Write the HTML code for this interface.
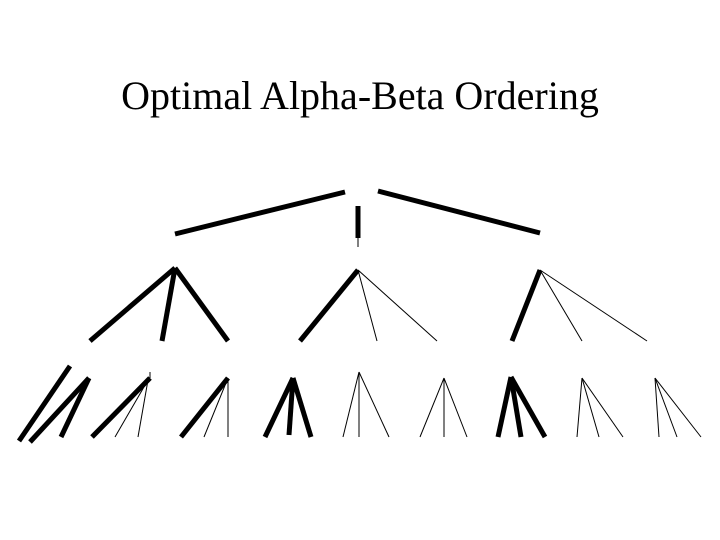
<!DOCTYPE html>
<html><head><style>
html,body{margin:0;padding:0;background:#fff;width:720px;height:540px;overflow:hidden}
.t{position:absolute;left:0;width:720px;top:72px;text-align:center;font-family:"Liberation Serif",serif;font-size:40px;color:#000}
svg{position:absolute;left:0;top:0}
</style></head><body>
<div class="t">Optimal Alpha-Beta Ordering</div>
<svg width="720" height="540" stroke="#000" stroke-linecap="butt">
<g stroke-width="5">
<line x1="175" y1="234" x2="345" y2="192"/>
<line x1="358" y1="206" x2="358" y2="238"/>
<line x1="378" y1="191" x2="540" y2="233"/>
<line x1="175" y1="268" x2="90" y2="341"/>
<line x1="175" y1="268" x2="162" y2="341"/>
<line x1="175" y1="268" x2="228" y2="341"/>
<line x1="358" y1="270" x2="300" y2="341"/>
<line x1="540" y1="270" x2="512" y2="341"/>
<line x1="70" y1="366" x2="19" y2="441"/>
<line x1="89" y1="378" x2="30" y2="442"/>
<line x1="89" y1="378" x2="61" y2="437"/>
<line x1="150" y1="378" x2="92" y2="437"/>
<line x1="228" y1="378" x2="181" y2="437"/>
<line x1="293" y1="378" x2="265" y2="437"/>
<line x1="293" y1="378" x2="289" y2="435"/>
<line x1="293" y1="378" x2="311" y2="437"/>
<line x1="511" y1="377" x2="498" y2="437"/>
<line x1="511" y1="377" x2="521" y2="437"/>
<line x1="511" y1="377" x2="545" y2="437"/>
</g>
<g stroke-width="1">
<line x1="358" y1="238" x2="358" y2="247"/>
<line x1="358" y1="270" x2="377" y2="341"/>
<line x1="358" y1="270" x2="437" y2="341"/>
<line x1="540" y1="270" x2="582" y2="341"/>
<line x1="540" y1="270" x2="647" y2="341"/>
<line x1="150" y1="372" x2="150" y2="378"/>
<line x1="148" y1="380" x2="115" y2="437"/>
<line x1="148" y1="380" x2="138" y2="437"/>
<line x1="228" y1="378" x2="204" y2="437"/>
<line x1="228" y1="378" x2="228" y2="437"/>
<line x1="359" y1="372" x2="343" y2="437"/>
<line x1="359" y1="372" x2="359" y2="437"/>
<line x1="359" y1="372" x2="389" y2="437"/>
<line x1="444" y1="378" x2="420" y2="437"/>
<line x1="444" y1="378" x2="444" y2="437"/>
<line x1="444" y1="378" x2="467" y2="437"/>
<line x1="582" y1="378" x2="577" y2="437"/>
<line x1="582" y1="378" x2="599" y2="437"/>
<line x1="582" y1="378" x2="623" y2="437"/>
<line x1="655" y1="378" x2="659" y2="437"/>
<line x1="655" y1="378" x2="677" y2="437"/>
<line x1="655" y1="378" x2="701" y2="437"/>
</g>
</svg>
</body></html>
